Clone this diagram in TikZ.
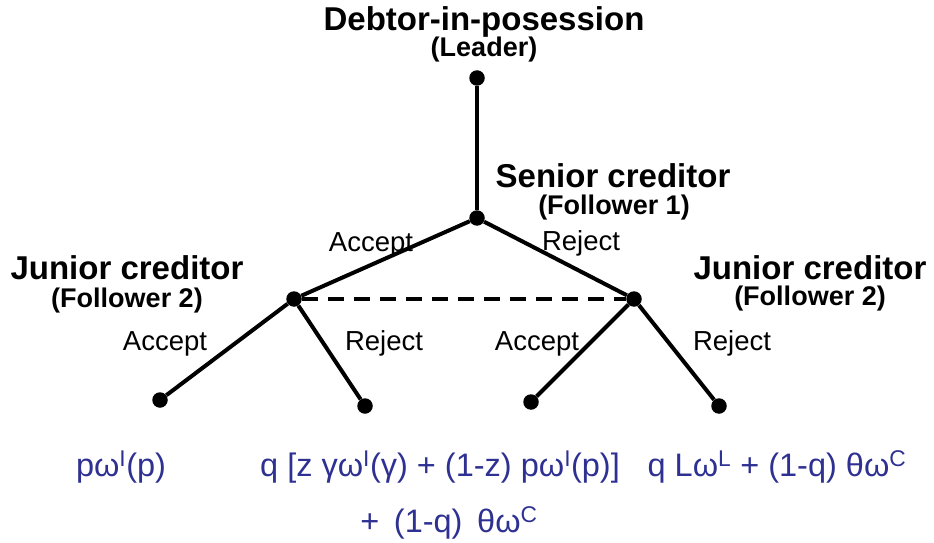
\documentclass[tikz,border=0pt]{standalone}
\usepackage{fontspec}
\setmainfont{Liberation Sans}
\definecolor{payblue}{RGB}{46,49,146}
\begin{document}
\begin{tikzpicture}[x=1pt,y=1pt,
  dot/.style={circle,fill=black,inner sep=0pt,minimum size=15.5pt},
  edge/.style={line width=4pt},
  info/.style={line width=3.6pt,dash pattern=on 16pt off 10pt},
  role/.style={font=\fontsize{33}{36}\selectfont\bfseries, anchor=base, inner sep=0pt},
  sub/.style={font=\fontsize{27}{30}\selectfont\bfseries, anchor=base, inner sep=0pt},
  lab/.style={font=\fontsize{27.5}{30}\selectfont, anchor=base, inner sep=0pt},
  pay/.style={font=\fontsize{32.5}{35}\selectfont, text=payblue, anchor=base, inner sep=0pt}]
\useasboundingbox (0,0) rectangle (934,542);
% nodes of the tree
\node[dot] (root) at (477,464) {};
\node[dot] (senior) at (477,324) {};
\node[dot] (jl) at (294,243) {};
\node[dot] (jr) at (634,243) {};
\node[dot] (l1) at (160,142) {};
\node[dot] (l2) at (365,136) {};
\node[dot] (l3) at (531,140) {};
\node[dot] (l4) at (719,136) {};
% edges
\draw[edge] (root) -- (senior);
\draw[edge] (senior) -- (jl);
\draw[edge] (senior) -- (jr);
\draw[info] (jl) -- (jr);
\draw[edge] (jl) -- (l1);
\draw[edge] (jl) -- (l2);
\draw[edge] (jr) -- (l3);
\draw[edge] (jr) -- (l4);
% player labels
\node[role] (t1) at (484,511) {Debtor-in-posession};
\node[sub] (t2) at (484,485) {(Leader)};
\node[role] (t3) at (613,355) {Senior creditor};
\node[sub] (t4) at (614,328) {(Follower 1)};
\node[role] (t5) at (127,263) {Junior creditor};
\node[sub] (t6) at (127,235) {(Follower 2)};
\node[role] (t7) at (810,263) {Junior creditor};
\node[sub] (t8) at (810,237) {(Follower 2)};
% action labels
\node[lab] (a1) at (371,291) {Accept};
\node[lab] (a2) at (581,292) {Reject};
\node[lab] (a3) at (165,192) {Accept};
\node[lab] (a4) at (384,192) {Reject};
\node[lab] (a5) at (537,192) {Accept};
\node[lab] (a6) at (732,192) {Reject};
% payoffs
\node[pay] (p1) at (121,66) {pω\textsuperscript{I}(p)};
\node[pay] (p2) at (440,66) {q [z γω\textsuperscript{I}(γ) + (1-z) pω\textsuperscript{I}(p)]};
\node[pay] (p3) at (777,66) {q Lω\textsuperscript{L} + (1-q) θω\textsuperscript{C}};
\node[pay] (p4) at (449,10) {+\hspace{0.45em}(1-q)\hspace{0.45em}θω\textsuperscript{C}};
\end{tikzpicture}
\end{document}
